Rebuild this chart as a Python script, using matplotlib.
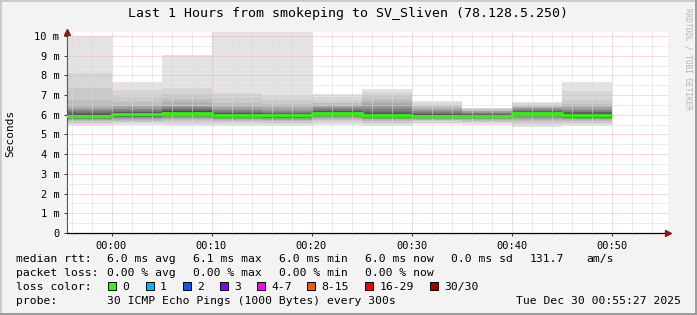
import numpy as np
import matplotlib
matplotlib.use("Agg")
import matplotlib.pyplot as plt
from matplotlib.patches import Rectangle
from matplotlib.ticker import MultipleLocator, FixedLocator

W, H = 697, 315
plt.rcParams['font.family'] = ['DejaVu Sans Mono']

# 5 minute bins, minutes relative to 00:00 (left edge of each bin)
bin_start = [-5, 0, 5, 10, 15, 20, 25, 30, 35, 40, 45]

# 30 sorted ping rtts per bin in ms (read from the smoke)
pings = [
    [5.43, 5.52, 5.60, 5.66, 5.71, 5.75, 5.78, 5.81, 5.84, 5.86, 5.88, 5.90, 5.92, 5.93, 5.94,
     5.96, 5.98, 6.01, 6.04, 6.08, 6.12, 6.17, 6.22, 6.28, 6.36, 6.50, 6.75, 7.34, 8.14, 10.00],
    [5.48, 5.56, 5.63, 5.69, 5.74, 5.78, 5.82, 5.85, 5.88, 5.91, 5.93, 5.95, 5.97, 5.99, 6.01,
     6.04, 6.06, 6.09, 6.12, 6.15, 6.19, 6.23, 6.28, 6.34, 6.42, 6.52, 6.66, 6.92, 7.25, 7.68],
    [5.45, 5.55, 5.64, 5.71, 5.77, 5.82, 5.86, 5.90, 5.93, 5.96, 5.99, 6.02, 6.04, 6.06, 6.08,
     6.12, 6.15, 6.18, 6.21, 6.25, 6.29, 6.33, 6.38, 6.44, 6.52, 6.64, 6.82, 7.05, 7.38, 9.04],
    [5.45, 5.54, 5.62, 5.68, 5.73, 5.77, 5.81, 5.84, 5.87, 5.90, 5.92, 5.94, 5.96, 5.98, 5.99,
     6.01, 6.03, 6.05, 6.08, 6.11, 6.15, 6.19, 6.24, 6.30, 6.38, 6.48, 6.62, 6.85, 7.12, 10.19],
    [5.43, 5.52, 5.60, 5.66, 5.71, 5.75, 5.79, 5.82, 5.85, 5.88, 5.90, 5.92, 5.94, 5.95, 5.96,
     5.98, 6.00, 6.02, 6.05, 6.08, 6.11, 6.15, 6.20, 6.26, 6.33, 6.42, 6.55, 6.75, 6.95, 10.19],
    [5.50, 5.60, 5.68, 5.74, 5.79, 5.83, 5.87, 5.90, 5.93, 5.96, 5.98, 6.00, 6.02, 6.04, 6.06,
     6.10, 6.12, 6.15, 6.18, 6.21, 6.25, 6.29, 6.33, 6.38, 6.44, 6.51, 6.60, 6.72, 6.88, 7.06],
    [5.43, 5.52, 5.60, 5.67, 5.72, 5.77, 5.81, 5.84, 5.87, 5.90, 5.92, 5.94, 5.96, 5.97, 5.99,
     6.01, 6.03, 6.06, 6.10, 6.15, 6.21, 6.28, 6.36, 6.45, 6.55, 6.65, 6.80, 6.98, 7.15, 7.31],
    [5.53, 5.60, 5.66, 5.71, 5.75, 5.78, 5.81, 5.84, 5.86, 5.88, 5.90, 5.91, 5.92, 5.93, 5.94,
     5.96, 5.98, 6.00, 6.03, 6.06, 6.10, 6.14, 6.18, 6.23, 6.29, 6.36, 6.44, 6.52, 6.61, 6.70],
    [5.47, 5.56, 5.63, 5.69, 5.73, 5.77, 5.80, 5.83, 5.86, 5.88, 5.90, 5.91, 5.92, 5.93, 5.94,
     5.96, 5.97, 5.99, 6.01, 6.03, 6.05, 6.08, 6.11, 6.14, 6.17, 6.20, 6.24, 6.28, 6.32, 6.36],
    [5.40, 5.50, 5.59, 5.67, 5.74, 5.80, 5.85, 5.89, 5.93, 5.96, 5.99, 6.01, 6.03, 6.05, 6.07,
     6.09, 6.11, 6.13, 6.15, 6.18, 6.21, 6.24, 6.28, 6.32, 6.36, 6.41, 6.46, 6.52, 6.58, 6.65],
    [5.43, 5.52, 5.60, 5.66, 5.71, 5.76, 5.80, 5.83, 5.86, 5.89, 5.91, 5.93, 5.95, 5.97, 5.99,
     6.01, 6.03, 6.06, 6.09, 6.12, 6.16, 6.20, 6.25, 6.31, 6.38, 6.46, 6.56, 6.75, 7.20, 7.66],
]
median_rtt = [5.95, 6.03, 6.10, 6.00, 5.97, 6.08, 6.00, 5.95, 5.95, 6.08, 6.00]

x_ticks = [0, 10, 20, 30, 40, 50]
x_labels = ["00:00", "00:10", "00:20", "00:30", "00:40", "00:50"]
y_ticks = [0, 1, 2, 3, 4, 5, 6, 7, 8, 9, 10]
y_labels = ["0"] + ["%d m" % v for v in y_ticks[1:]]

loss_labels = ["0", "1", "2", "3", "4-7", "8-15", "16-29", "30/30"]
loss_colors = ["#26ff00", "#00b8ff", "#0059ff", "#7e00ff", "#ff00ff", "#ff5500", "#ff0000", "#a10000"]

title = "Last 1 Hours from smokeping to SV_Sliven (78.128.5.250)"


def fx(x):
    return x / W


def fy(y):
    return 1 - y / H


fig = plt.figure(figsize=(W / 100, H / 100), dpi=100, facecolor="#f3f3f3")
ax = fig.add_axes([fx(67), fy(233), 601 / W, 201 / H])
ax.set_facecolor("white")

# smoke, outer pairs first, darker towards the median
p = np.array(pings)
half = p.shape[1] // 2
for i in range(half):
    g = int(190 / half * (half - (i + 1))) + 50
    col = "#%02x%02x%02x" % (g, g, g)
    lo = p[:, i]
    hi = p[:, -1 - i]
    ax.bar(bin_start, hi - lo, width=5, bottom=lo, align="edge",
           color=col, linewidth=0, zorder=2)

# median line
xs = list(bin_start) + [bin_start[-1] + 5]
ys = list(median_rtt) + [median_rtt[-1]]
ax.plot(xs, ys, drawstyle="steps-post", color="#26ff00", linewidth=2.0,
        solid_capstyle="butt", zorder=4)

ax.set_xlim(-4.45, 55.65)
ax.set_ylim(0, 10.2)

ax.xaxis.set_major_locator(FixedLocator(x_ticks))
ax.xaxis.set_minor_locator(MultipleLocator(2))
ax.set_xticklabels(x_labels)
ax.yaxis.set_major_locator(FixedLocator(y_ticks))
ax.yaxis.set_minor_locator(MultipleLocator(0.5))
ax.set_yticklabels(y_labels)

ax.grid(which="minor", color="#dadada", linestyle=(0, (1, 1)), linewidth=0.72, zorder=3)
ax.grid(which="major", color="#ecb8b8", linestyle=(0, (1, 1)), linewidth=0.72, zorder=3)
ax.set_axisbelow(False)

ax.tick_params(which="major", length=2, width=0.7, colors="#333333", labelsize=7.5,
               labelcolor="black")
ax.tick_params(which="minor", length=1, width=0.6, colors="#888888")
ax.tick_params(axis="y", pad=3.5)
ax.tick_params(axis="x", pad=4.0)

for s in ["top", "right"]:
    ax.spines[s].set_visible(False)
ax.spines["left"].set_color("#555555")
ax.spines["left"].set_linewidth(0.8)
ax.spines["bottom"].set_color("black")
ax.spines["bottom"].set_linewidth(0.9)

# axis arrows
ax.plot([0], [1.0], transform=ax.transAxes, marker="^", markersize=4.5,
        color="#8b1a1a", clip_on=False, zorder=6)
ax.plot([1.0], [0], transform=ax.transAxes, marker=">", markersize=4.5,
        color="#8b1a1a", clip_on=False, zorder=6)

fig.text(fx(10), fy(133), "Seconds", rotation=90, ha="center", va="center", fontsize=8)
fig.text(0.5, fy(13), title, ha="center", va="center", fontsize=9.5)
fig.text(fx(688), fy(59), "RRDTOOL / TOBI OETIKER", rotation=270, ha="center",
         va="center", fontsize=5.6, color="#b4b4b4")

fs = 8.2
rows = [
    (259, [(16, "median rtt:"), (107, "6.0 ms avg"), (193, "6.1 ms max"), (279, "6.0 ms min"),
           (365, "6.0 ms now"), (451, "0.0 ms sd"), (530, "131.7"), (586, "am/s")]),
    (273, [(16, "packet loss:"), (107, "0.00 % avg"), (193, "0.00 % max"), (279, "0.00 % min"),
           (365, "0.00 % now")]),
    (287, [(16, "loss color:")]),
    (301, [(16, "probe:"), (107, "30 ICMP Echo Pings (1000 Bytes) every 300s")]),
]
for y, items in rows:
    for x, s in items:
        fig.text(fx(x), fy(y), s, ha="left", va="center", fontsize=fs)
fig.text(fx(681), fy(301), "Tue Dec 30 00:55:27 2025", ha="right", va="center", fontsize=fs)

sw_x = [108, 145.5, 182.5, 220, 256.5, 306.5, 365, 430]
for x, lab, c in zip(sw_x, loss_labels, loss_colors):
    fig.add_artist(Rectangle((fx(x), fy(290)), 8 / W, 8 / H, transform=fig.transFigure,
                             facecolor=c, edgecolor="black", linewidth=0.7))
    fig.text(fx(x + 14.5), fy(287), lab, ha="left", va="center", fontsize=fs)

# frame shading
fig.add_artist(Rectangle((0, 0), 2 / W, 1, transform=fig.transFigure, color="#cbcbcb", lw=0))
fig.add_artist(Rectangle((0, 1 - 2 / H), 1, 2 / H, transform=fig.transFigure, color="#cbcbcb", lw=0))
fig.add_artist(Rectangle((1 - 2 / W, 0), 2 / W, 1, transform=fig.transFigure, color="#9c9c9c", lw=0))
fig.add_artist(Rectangle((0, 0), 1, 2 / H, transform=fig.transFigure, color="#9c9c9c", lw=0))

fig.savefig("out.png", dpi=100, facecolor=fig.get_facecolor())
